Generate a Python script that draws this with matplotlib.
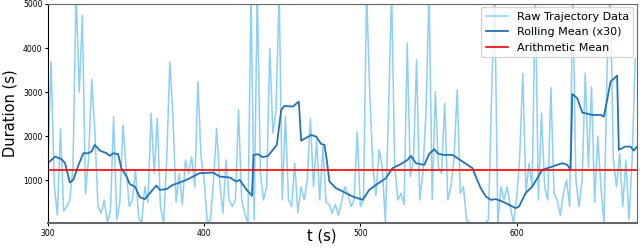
import numpy as np
import matplotlib
matplotlib.use('Agg')
import matplotlib.pyplot as plt

# raw trajectory durations, one value every 2 s starting at t = 300
raw_v = [1400, 3690, 900, 200, 2160, 300, 400, 550, 1300, 5300,   # 300-318
         3000, 4740, 700, 1500, 3290, 2100, 400, 250, 550, 50,    # 320-338
         300, 2440, 100, 500, 2250, 1300, 400, 550, 1230, 150,    # 340-358
         30, 850, 500, 2520, 1160, 2400, 400, 30, 1460, 3690,     # 360-378
         2440, 500, 1150, 450, 1460, 1150, 1530, 850, 3240, 1530, # 380-398
         1000, 30, 100, 1000, 2180, 930, 250, 1460, 550, 400,     # 400-418
         550, 2590, 550, 250, 30, 5300, 100, 5300, 1160, 550,     # 420-438
         850, 3990, 2070, 2590, 5300, 550, 2440, 550, 400, 1380,  # 440-458
         250, 850, 550, 1000, 2400, 850, 1900, 550, 1760, 500,    # 460-478
         450, 250, 450, 200, 500, 850, 700, 400, 550, 2100,       # 480-498
         400, 550, 5300, 2970, 1300, 650, 1690, 1300, 30, 2520,   # 500-518
         5300, 1300, 550, 700, 450, 4110, 1080, 1460, 3730, 550,  # 520-538
         1150, 2520, 5300, 550, 3010, 1300, 1150, 2740, 550, 850, # 540-558
         1500, 3050, 700, 850, 100, 30, 30, 30, 30, 30,           # 560-578
         30, 100, 2900, 5300, 30, 850, 550, 850, 400, 30,         # 580-598
         550, 1500, 3420, 700, 1380, 850, 5300, 550, 2520, 850,   # 600-618
         550, 3100, 700, 550, 200, 700, 1000, 400, 5300, 1000,    # 620-638
         400, 1000, 3430, 1300, 3120, 500, 2000, 850, 30, 3580,   # 640-658
         5300, 1460, 850, 1610, 400, 1460, 100, 1460, 3760]       # 660-676
raw_t = 300 + 2 * np.arange(len(raw_v))

# rolling mean (window 30)
rm_t = [300, 304.5, 308.7, 310.9, 314, 316.2, 319.4, 322.6, 325.8, 327.9,
        330, 333.2, 337.5, 339.6, 341.7, 344.9, 347, 350.3, 352.4, 355.6,
        358.8, 362, 365.2, 369.4, 371.6, 375.8, 380, 384.3, 388.6, 392.9,
        397.1, 405.6, 409.9, 416.3, 420.6, 422.7, 426.9, 430.6, 431.6, 434.4,
        437.6, 440.8, 444, 446.5, 449.3, 451.4, 456.8, 460.6, 462.1, 468.5,
        471.7, 474.9, 477, 478.5, 480.2, 484.4, 488.7, 495.1, 501.5, 505.7,
        510, 516.4, 520.6, 524.9, 530.2, 532.4, 535.6, 540.9, 544.1, 547.3,
        549.4, 552.6, 559, 565.4, 571.8, 573.9, 577.1, 580.3, 583.5, 586.7,
        590.9, 595.2, 599.5, 601.6, 605.8, 610.1, 613.3, 616.5, 622.9, 629.3,
        632.5, 634.6, 635.7, 638.9, 642.1, 648.4, 653.8, 655.9, 658, 660.2,
        664.4, 665.5, 669.7, 672.9, 675.1, 677.2]
rm_v = [1385, 1536, 1476, 1385, 946, 1006, 1332, 1612, 1612, 1650,
        1800, 1672, 1612, 1551, 1612, 1590, 1272, 1083, 909, 856,
        614, 569, 705, 879, 780, 796, 894, 946, 1006, 1083,
        1158, 1173, 1083, 1060, 969, 1006, 796, 644, 1574, 1590,
        1521, 1551, 1688, 1800, 2594, 2685, 2670, 2783, 1898, 2026,
        1989, 1822, 1800, 1460, 969, 818, 743, 629, 554, 780,
        894, 1045, 1272, 1347, 1460, 1551, 1385, 1347, 1597, 1703,
        1612, 1574, 1574, 1423, 1272, 1083, 818, 629, 554, 569,
        516, 440, 365, 402, 705, 856, 1045, 1234, 1309, 1385,
        1347, 1234, 2957, 2859, 2534, 2481, 2481, 2443, 2821, 3237,
        3373, 1688, 1763, 1763, 1672, 1763]

mean_v = 1240

fig = plt.figure(figsize=(6.4, 2.49), dpi=100)
ax = fig.add_axes([0.075, 0.104, 0.92, 0.88])

ax.plot(raw_t, raw_v, color='#8ccff7', lw=1.1, label='Raw Trajectory Data')
ax.plot(rm_t, rm_v, color='#2471b3', lw=1.3, label='Rolling Mean (x30)')
ax.axhline(mean_v, color='red', lw=1.2, label='Arithmetic Mean')

ax.set_xlim(300, 677)
ax.set_ylim(25, 5000)
ax.set_xticks([300, 400, 500, 600])
ax.set_yticks([1000, 2000, 3000, 4000, 5000])
ax.tick_params(labelsize=5.5, length=2, pad=2)

ax.set_xlabel('t (s)', fontsize=10.5)
ax.xaxis.set_label_coords(0.465, -0.025)
ax.set_ylabel('Duration (s)', fontsize=10.5, labelpad=4)

for s in ['top', 'bottom', 'right']:
    ax.spines[s].set_color('#666666')
ax.spines['bottom'].set_linewidth(1.5)

ax.legend(loc='upper right', fontsize=8, borderaxespad=0.3)

fig.savefig('out.png', dpi=100)
